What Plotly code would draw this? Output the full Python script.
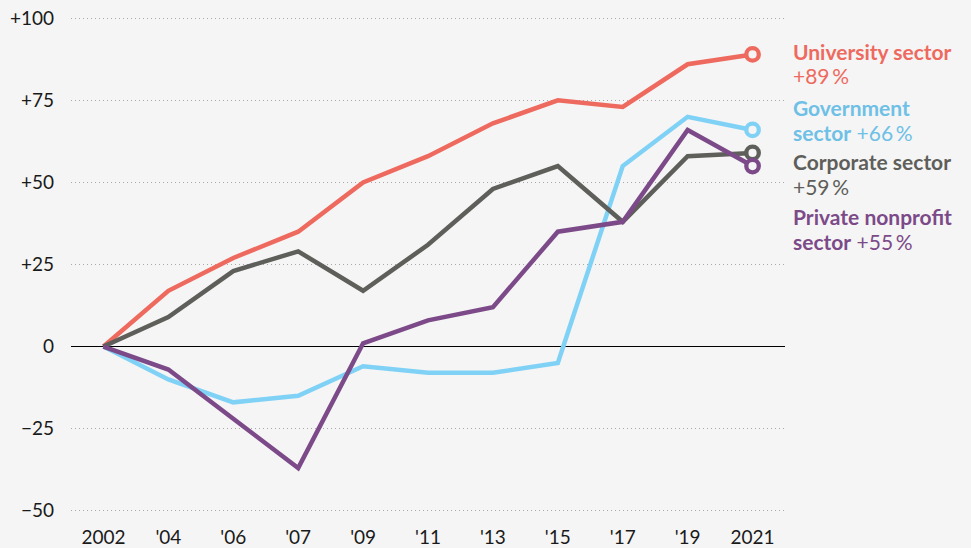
import plotly.graph_objects as go

years = ["2002", "'04", "'06", "'07", "'09", "'11", "'13", "'15", "'17", "'19", "2021"]
university = [0, 17, 27, 35, 50, 58, 68, 75, 73, 86, 89]
government = [0, -10, -17, -15, -6, -8, -8, -5, 55, 70, 66]
corporate = [0, 9, 23, 29, 17, 31, 48, 55, 38, 58, 59]
nonprofit = [0, -7, -22, -37, 1, 8, 12, 35, 38, 66, 55]

y_ticks = [-50, -25, 0, 25, 50, 75, 100]
y_tick_labels = ["\u221250", "\u221225", "0", "+25", "+50", "+75", "+100"]

# name line 1, name line 2 (bold part), values, line colour, text colour, change label, label centre
series = [
    ("University sector", "", university, "#ee6a5f", "#ee6a5f", "+89\u2009%", 86.2),
    ("Government", "sector", government, "#80d1f6", "#6ec0e6", "+66\u2009%", 69.1),
    ("Corporate sector", "", corporate, "#5e5e5a", "#5e5e5a", "+59\u2009%", 52.6),
    ("Private nonprofit", "sector", nonprofit, "#7c4a88", "#7c4a88", "+55\u2009%", 35.8),
]

BG = "#f5f5f5"
FONT = "Lato"

fig = go.Figure()
for name, second, vals, col, tcol, pct, ly in series:
    fig.add_trace(go.Scatter(
        x=years, y=vals, mode="lines", line=dict(color=col, width=4.5),
        hoverinfo="skip", showlegend=False))
for name, second, vals, col, tcol, pct, ly in series:
    fig.add_trace(go.Scatter(
        x=[years[-1]], y=[vals[-1]], mode="markers",
        marker=dict(size=12.5, color=BG, line=dict(color=col, width=4.3)),
        hoverinfo="skip", showlegend=False))
    line2 = f"<b>{second}</b> {pct}" if second else pct
    for txt, shift in ((f"<b>{name}</b>", 12.3), (line2, -12.3)):
        fig.add_annotation(
            xref="paper", x=1.0, xshift=6, y=ly, yref="y", yshift=shift, text=txt,
            showarrow=False, xanchor="left", yanchor="middle", align="left",
            font=dict(family=FONT, size=21, color=tcol))

fig.update_layout(
    width=971, height=548,
    margin=dict(l=71, r=186, t=17, b=36),
    paper_bgcolor=BG, plot_bgcolor=BG,
    font=dict(family=FONT, size=19, color="#1a1a1a"),
    xaxis=dict(type="category", range=[-0.5, len(years) - 0.5],
               showgrid=False, zeroline=False, showline=False,
               ticks="", tickfont=dict(size=19), ticklabelstandoff=12,
               fixedrange=True, automargin=False),
    yaxis=dict(range=[-50.4, 100.4], tickvals=y_ticks, ticktext=y_tick_labels,
               showgrid=True, gridcolor="#a8a8a8", griddash="1px,3px", gridwidth=1,
               zeroline=True, zerolinecolor="#000000", zerolinewidth=1,
               showline=False, ticks="", ticklabelstandoff=16,
               tickfont=dict(size=19), fixedrange=True, automargin=False),
)

fig.write_html("out.html", config={"displayModeBar": False},
               post_script="document.body.style.margin='0';document.body.style.padding='0';")
